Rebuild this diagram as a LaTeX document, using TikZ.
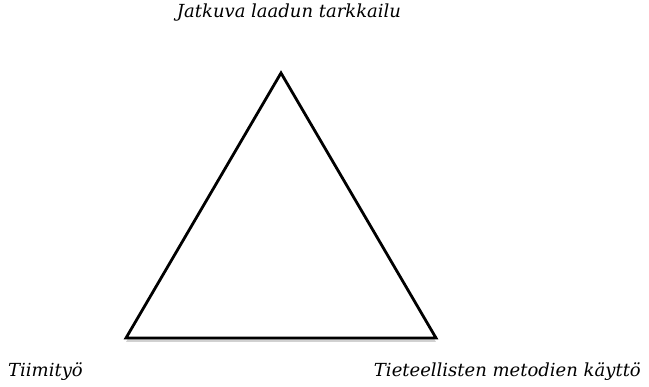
\documentclass[tikz,border=0pt]{standalone}
\usepackage{fontspec}
\setmainfont{DejaVu Serif}
\usetikzlibrary{positioning, shadows}

\begin{document}
\begin{tikzpicture}[
        x=1pt, y=1pt,
        font=\fontsize{18}{21}\selectfont\itshape,
        label/.style={inner sep=0pt},
        edge/.style={line width=2.8pt, line join=miter, fill=white,
                     drop shadow={shadow xshift=0pt, shadow yshift=-4pt, opacity=0.3, fill=black!60}}
    ]
    \useasboundingbox (0,0) rectangle (649,387);

    \coordinate (apex) at (281,314);
    \coordinate (left) at (126,49);
    \coordinate (right) at (436,49);

    \draw [edge] (apex) -- (left) -- (right) -- cycle;

    \node (quality) [label, anchor=base] at (289,369) {Jatkuva laadun tarkkailu};
    \node (team) [label, anchor=base west] at (8,10) {Tiimityö};
    \node (science) [label, anchor=base east] at (641,10) {Tieteellisten metodien käyttö};

\end{tikzpicture}
\end{document}
